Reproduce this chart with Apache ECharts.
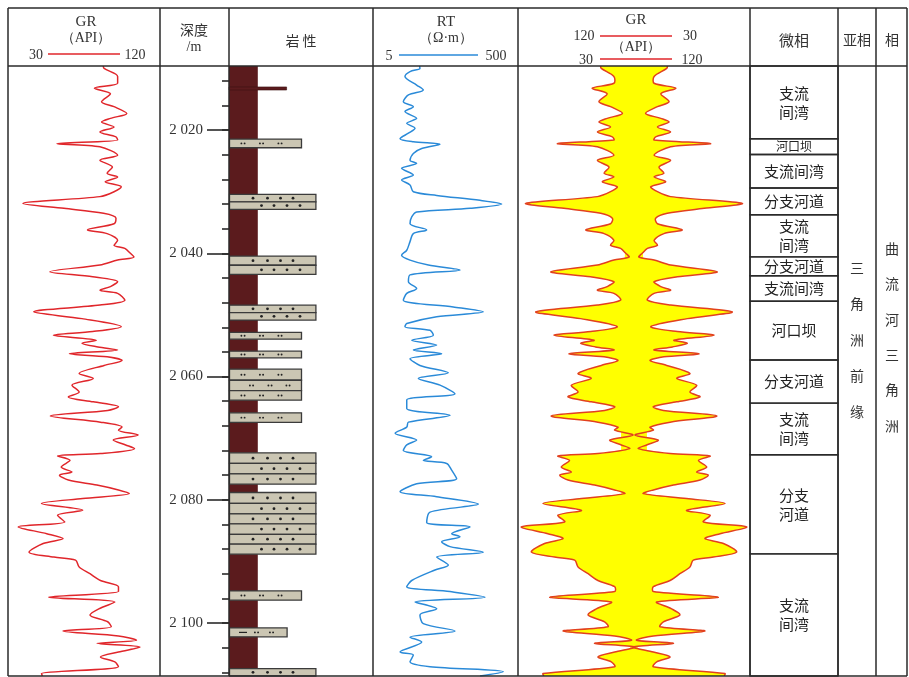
<!DOCTYPE html>
<html>
<head>
<meta charset="utf-8">
<script src="https://cdn.jsdelivr.net/npm/echarts@6/dist/echarts.min.js"></script>
<style>
  html, body { margin: 0; padding: 0; background: #fff; }
  #c { width: 909px; height: 677px; }
</style>
</head>
<body>
<div id="c"></div>
<script>
// Depth window of the log (m)
const DEPTH_MIN = 2009.6;
const DEPTH_MAX = 2108.6;

// Depth axis ticks and labels (m)
const depthMinorTicks = [2012, 2016, 2020, 2024, 2028, 2032, 2036, 2040, 2044, 2048, 2052, 2056,
  2060, 2064, 2068, 2072, 2076, 2080, 2084, 2088, 2092, 2096, 2100, 2104, 2108];
const depthLabels = [2020, 2040, 2060, 2080, 2100];

// Gamma ray curve (API)
const grDepth = [2009.6, 2010.0, 2011.3, 2012.4, 2013.2, 2014.1, 2015.4, 2016.2, 2017.3, 2018.1,
  2018.7, 2019.5, 2020.3, 2021.1, 2021.6, 2022.2, 2022.7, 2024.1, 2024.9, 2026.0,
  2027.0, 2027.6, 2028.4, 2029.2, 2030.0, 2030.8, 2031.9, 2032.7, 2033.5, 2034.3,
  2035.2, 2036.2, 2036.8, 2037.9, 2038.7, 2039.2, 2040.0, 2040.6, 2041.1, 2041.9,
  2043.0, 2043.8, 2044.6, 2045.4, 2046.0, 2046.5, 2047.6, 2048.4, 2049.5, 2050.6,
  2051.9, 2052.7, 2053.3, 2054.1, 2054.6, 2055.2, 2055.7, 2056.3, 2056.8, 2057.4,
  2058.2, 2059.5, 2060.3, 2061.4, 2062.5, 2063.3, 2064.1, 2064.9, 2065.5, 2066.4,
  2067.4, 2068.2, 2068.7, 2069.5, 2070.3, 2071.1, 2071.7, 2072.5, 2072.9, 2073.6,
  2074.7, 2075.5, 2076.0, 2076.8, 2077.6, 2078.4, 2079.0, 2079.8, 2080.6, 2081.7,
  2082.5, 2083.6, 2084.4, 2085.5, 2086.3, 2087.1, 2088.5, 2089.3, 2089.8, 2090.9,
  2092.0, 2093.1, 2094.1, 2094.9, 2095.8, 2096.6, 2097.7, 2098.7, 2099.8, 2100.6,
  2101.3, 2102.1, 2102.8, 2103.3, 2103.9, 2104.7, 2105.5, 2106.3, 2107.1, 2108.2, 2108.6];
const grValue = [62.0, 62.3, 67.2, 67.2, 58.8, 64.6, 61.4, 65.9, 70.5, 64.6,
  61.4, 65.9, 60.8, 66.6, 67.2, 45.3, 60.8, 67.2, 60.8, 65.3,
  63.4, 67.2, 62.7, 68.5, 65.9, 60.8, 33.0, 47.8, 62.1, 66.6,
  65.9, 56.3, 63.4, 67.2, 65.9, 69.8, 71.8, 73.1, 67.2, 60.8,
  42.7, 58.2, 67.2, 64.6, 60.8, 67.2, 69.8, 60.8, 36.9, 54.3,
  68.5, 58.2, 44.0, 59.5, 54.3, 60.1, 67.2, 49.8, 63.4, 68.8,
  62.3, 53.3, 58.4, 50.7, 53.3, 49.4, 58.4, 67.5, 63.6, 42.9,
  61.0, 68.8, 67.5, 74.6, 65.6, 70.1, 73.3, 61.0, 45.5, 50.0,
  46.8, 50.7, 46.2, 49.4, 59.7, 67.5, 71.4, 54.6, 39.7, 54.6,
  45.5, 48.1, 31.3, 41.6, 47.5, 40.3, 35.2, 44.2, 52.0, 53.3,
  57.2, 61.0, 67.5, 67.5, 42.3, 66.2, 60.4, 57.2, 63.6, 64.9,
  47.5, 67.5, 74.0, 59.7, 75.3, 67.5, 61.0, 66.2, 67.5, 39.7, 40.0];

// Resistivity curve (ohm.m)
const rtDepth = [2009.6, 2010.0, 2010.5, 2011.3, 2012.7, 2013.5, 2014.3, 2015.4, 2016.2, 2017.0,
  2018.1, 2018.9, 2019.7, 2020.5, 2021.4, 2021.9, 2022.3, 2023.0, 2023.8, 2024.9,
  2025.4, 2026.2, 2027.3, 2028.1, 2028.9, 2030.0, 2030.6, 2031.4, 2032.0, 2032.7,
  2033.3, 2034.1, 2035.2, 2036.2, 2036.8, 2038.1, 2039.5, 2040.3, 2041.1, 2041.9,
  2042.7, 2043.5, 2044.6, 2045.7, 2046.5, 2047.6, 2048.7, 2049.5, 2050.3, 2051.4,
  2051.9, 2052.5, 2053.3, 2054.1, 2054.9, 2055.7, 2056.3, 2057.1, 2058.2, 2059.4,
  2060.3, 2061.4, 2062.8, 2063.8, 2065.2, 2066.3, 2067.4, 2068.2, 2069.2, 2070.3,
  2071.1, 2072.0, 2073.0, 2073.6, 2074.1, 2075.2, 2076.6, 2077.4, 2078.7, 2079.5,
  2080.7, 2082.0, 2083.7, 2084.4, 2085.5, 2086.0, 2086.8, 2087.6, 2088.5, 2089.3,
  2090.6, 2091.4, 2093.1, 2094.1, 2094.9, 2095.8, 2096.6, 2097.7, 2098.7, 2100.1,
  2101.3, 2102.3, 2103.1, 2104.7, 2105.2, 2106.3, 2107.1, 2107.9, 2108.6];
const rtValue = [22, 22.2, 16.2, 13.8, 20.0, 24.7, 15.4, 13.1, 18.0, 13.8,
  20.0, 14.6, 19.0, 15.4, 11.8, 18.0, 42.0, 23.5, 18.0, 16.2,
  20.0, 12.4, 18.0, 12.4, 16.2, 18.0, 37.8, 149.6, 298, 108.9,
  20.0, 17.1, 16.2, 27.5, 18.0, 16.2, 14.6, 12.4, 16.2, 29.0,
  79.2, 16.2, 15.4, 20.0, 14.6, 13.1, 64.1, 166, 37.8, 14.6,
  13.8, 30.6, 34.0, 17.1, 37.8, 18.0, 44.3, 16.2, 22.2, 54.7,
  21.1, 42.0, 67.6, 14.6, 14.6, 57.7, 15.4, 14.6, 10.1, 20.0,
  14.6, 13.1, 32.2, 24.7, 51.9, 60.8, 71.3, 20.0, 11.8, 37.8,
  141.9, 30.6, 27.5, 108.9, 60.8, 79.2, 44.3, 57.7, 166, 37.8,
  54.7, 35.8, 17.1, 14.6, 57.7, 175, 19.0, 37.8, 22.2, 24.7,
  67.6, 16.2, 23.5, 11.8, 18.0, 16.2, 30.6, 314, 150];

// Lithology beds (top, base in m; rock type)
const litTop = [2013.0, 2021.46, 2030.44, 2031.65, 2040.45, 2041.94, 2048.41, 2049.62, 2052.84, 2055.88,
  2058.8, 2060.6, 2062.3, 2065.89, 2072.38, 2074.1, 2075.8, 2078.82, 2080.6, 2082.3,
  2083.9, 2085.6, 2087.2, 2094.79, 2100.8, 2107.4];
const litBase = [2013.5, 2022.87, 2031.65, 2032.87, 2041.94, 2043.43, 2049.62, 2050.84, 2053.93, 2056.96,
  2060.6, 2062.3, 2063.83, 2067.45, 2074.1, 2075.8, 2077.47, 2080.6, 2082.3, 2083.9,
  2085.6, 2087.2, 2088.83, 2096.3, 2102.25, 2108.6];
const litType = ['mudBand', 'silt', 'sand', 'sand', 'sand', 'sand', 'sand', 'sand', 'silt', 'silt',
  'silt', 'silt', 'silt', 'silt', 'sand', 'sand', 'sand', 'sand', 'sand', 'sand',
  'sand', 'sand', 'sand', 'silt', 'siltMud', 'sand'];

// Microfacies intervals
const faciesTop = [2009.6, 2021.41, 2023.96, 2029.40, 2033.73, 2040.57, 2043.64, 2047.79, 2057.31, 2064.32, 2072.69, 2088.78];
const faciesBase = [2021.41, 2023.96, 2029.40, 2033.73, 2040.57, 2043.64, 2047.79, 2057.31, 2064.32, 2072.69, 2088.78, 2108.6];
const faciesName = ['支流\n间湾', '河口坝', '支流间湾', '分支河道', '支流\n间湾', '分支河道', '支流间湾',
  '河口坝', '分支河道', '支流\n间湾', '分支\n河道', '支流\n间湾'];
const subFaciesName = '三角洲前缘';
const faciesGroupName = '曲流河三角洲';

// Grain-size class used as the width of each lithology bar
const grainSize = { mud: 1, mudBand: 2, siltMud: 2, silt: 2.5, sand: 3 };

const SERIF = '"Liberation Serif", "DejaVu Serif", serif';
const CJK = '"Noto Sans CJK SC", sans-serif';
const INK = '#2a2a2a';
const GR_RED = '#e0262b';
const GR_EDGE = '#e2401f';
const RT_BLUE = '#2a8ad8';
const MUD = '#5b1b1d';
const SAND = '#cbc6b3';

const chart = echarts.init(document.getElementById('c'), null, { renderer: 'canvas' });

const depthAxis = (gridIndex) => ({
  type: 'value', gridIndex, inverse: true, min: DEPTH_MIN, max: DEPTH_MAX, show: false
});

// Lithology bars and their fill symbols
function renderLith(params, api) {
  const i = api.value(2);
  const kind = i < 0 ? 'mud' : litType[i];
  const p0 = api.coord([0, api.value(0)]);
  const p1 = api.coord([grainSize[kind], api.value(1)]);
  const x = p0[0], y = p0[1], w = p1[0] - p0[0], h = p1[1] - p0[1];
  if (kind === 'mud') {
    return { type: 'rect', shape: { x, y, width: w, height: h }, style: { fill: MUD } };
  }
  if (kind === 'mudBand') {
    return { type: 'rect', shape: { x, y, width: w, height: h }, style: { fill: MUD, stroke: '#3a1010', lineWidth: 0.6 } };
  }
  const children = [{
    type: 'rect', shape: { x: x + 0.5, y, width: w, height: h },
    style: { fill: SAND, stroke: '#3b3b3b', lineWidth: 1.3 }
  }];
  // alternate the symbol rows inside stacked beds
  let row = 0;
  for (let k = i; k > 0 && Math.abs(litTop[k] - litBase[k - 1]) < 0.05; k--) row++;
  const cy = y + h / 2;
  const dot = (cx, r) => children.push({ type: 'circle', shape: { cx, cy, r }, style: { fill: '#222' } });
  if (kind === 'sand') {
    const offs = row % 2 === 0 ? [24, 38.5, 51.5, 64] : [32.5, 45, 58, 71];
    offs.forEach(o => dot(x + o, 1.4));
  } else if (kind === 'silt') {
    const offs = row % 2 === 0 ? [14, 32.5, 51] : [22.5, 41, 59];
    offs.forEach(o => { dot(x + o - 1.6, 0.95); dot(x + o + 1.6, 0.95); });
  } else if (kind === 'siltMud') {
    children.push({ type: 'line', shape: { x1: x + 10, y1: cy, x2: x + 18, y2: cy }, style: { stroke: '#222', lineWidth: 1.2 } });
    [27.5, 42.5].forEach(o => { dot(x + o - 1.6, 0.95); dot(x + o + 1.6, 0.95); });
  }
  return { type: 'group', children };
}

// Yellow body of the mirrored gamma-ray track: each curve is filled toward the track centre
const GR_SCALE_MIN = 30, GR_SCALE_MAX = 120;
const GR_MID = (GR_SCALE_MIN + GR_SCALE_MAX) / 2;
function renderGrFill(params, api) {
  const pts = grDepth.map((d, i) => api.coord([grValue[i], d]));
  pts.push(api.coord([GR_MID, DEPTH_MAX]));
  pts.push(api.coord([GR_MID, DEPTH_MIN]));
  return { type: 'polygon', shape: { points: pts, smooth: 0.3 }, style: { fill: '#ffff00' } };
}
function renderGrEdge(params, api) {
  const pts = grDepth.map((d, i) => api.coord([grValue[i], d]));
  return { type: 'polyline', shape: { points: pts, smooth: 0.3 }, style: { stroke: GR_EDGE, lineWidth: 1.5, fill: null } };
}

function renderFacies(params, api) {
  const p0 = api.coord([0, api.value(0)]);
  const p1 = api.coord([1, api.value(1)]);
  const name = faciesName[api.value(2)];
  const h = p1[1] - p0[1];
  const small = h < 17;
  return {
    type: 'group',
    children: [
      { type: 'rect', shape: { x: p0[0], y: p0[1], width: p1[0] - p0[0], height: h },
        style: { fill: null, stroke: INK, lineWidth: 1.4 } },
      { type: 'text', x: (p0[0] + p1[0]) / 2, y: (p0[1] + p1[1]) / 2,
        style: { text: name, fill: '#222', font: (small ? '12px ' : '15px ') + CJK,
          align: 'center', verticalAlign: 'middle', lineHeight: 19 } }
    ]
  };
}

const depthFmt = v => String(v).replace(/^(\d)(\d{3})$/, '$1 $2');

const grids = [
  { left: 8, top: 66, width: 152, height: 610 },    // GR
  { left: 229, top: 66, width: 144, height: 610 },  // depth + lithology
  { left: 373, top: 66, width: 145, height: 610 },  // RT
  { left: 518, top: 66, width: 232, height: 610 },  // mirrored GR
  { left: 750, top: 66, width: 88, height: 610 }    // microfacies
];

const option = {
  animation: false,
  backgroundColor: '#fff',
  grid: grids.map(g => Object.assign({ containLabel: false }, g)),
  xAxis: [
    { type: 'value', gridIndex: 0, min: 27.6, max: 82.5, show: false },
    { type: 'value', gridIndex: 1, min: 0, max: 5, show: false },
    { type: 'log', gridIndex: 2, logBase: 10, min: 5, max: 500, show: false },
    { type: 'value', gridIndex: 3, min: GR_SCALE_MIN, max: GR_SCALE_MAX, show: false },
    { type: 'value', gridIndex: 3, min: GR_SCALE_MIN, max: GR_SCALE_MAX, inverse: true, show: false },
    { type: 'value', gridIndex: 4, min: 0, max: 1, show: false }
  ],
  yAxis: [
    depthAxis(0),
    {
      type: 'value', gridIndex: 1, inverse: true, min: DEPTH_MIN, max: DEPTH_MAX, position: 'left',
      axisLine: { show: false }, splitLine: { show: false },
      axisTick: { show: true, customValues: depthMinorTicks, length: 7, lineStyle: { color: INK, width: 1.6 } },
      axisLabel: { show: false }
    },
    {
      type: 'value', gridIndex: 1, inverse: true, min: DEPTH_MIN, max: DEPTH_MAX, position: 'left',
      axisLine: { show: false }, splitLine: { show: false },
      axisTick: { show: true, customValues: depthLabels, length: 22, lineStyle: { color: INK, width: 1.6 } },
      axisLabel: { show: true, customValues: depthLabels, margin: 26, formatter: depthFmt,
        color: '#333', fontFamily: SERIF, fontSize: 15 }
    },
    depthAxis(2),
    depthAxis(3),
    depthAxis(4)
  ],
  series: [
    {
      type: 'line', name: 'GR', xAxisIndex: 0, yAxisIndex: 0, showSymbol: false, smooth: 0.3,
      lineStyle: { color: GR_RED, width: 1.5 }, silent: true,
      data: grDepth.map((d, i) => [grValue[i], d])
    },
    {
      type: 'custom', name: 'mudstone', xAxisIndex: 1, yAxisIndex: 1, silent: true, z: 1,
      encode: { y: [0, 1] }, renderItem: renderLith,
      data: [[DEPTH_MIN, DEPTH_MAX, -1]]
    },
    {
      type: 'custom', name: 'lithology', xAxisIndex: 1, yAxisIndex: 1, silent: true, z: 2,
      encode: { y: [0, 1] }, renderItem: renderLith,
      data: litTop.map((t, i) => [t, litBase[i], i])
    },
    {
      type: 'line', name: 'RT', xAxisIndex: 2, yAxisIndex: 3, showSymbol: false, smooth: 0.3,
      lineStyle: { color: RT_BLUE, width: 1.5 }, silent: true,
      data: rtDepth.map((d, i) => [rtValue[i], d])
    },
    { type: 'custom', xAxisIndex: 3, yAxisIndex: 4, silent: true, clip: true, z: 1,
      encode: { y: 1 }, renderItem: renderGrFill, data: [[GR_MID, DEPTH_MIN]] },
    { type: 'custom', xAxisIndex: 4, yAxisIndex: 4, silent: true, clip: true, z: 1,
      encode: { y: 1 }, renderItem: renderGrFill, data: [[GR_MID, DEPTH_MIN]] },
    { type: 'custom', xAxisIndex: 3, yAxisIndex: 4, silent: true, clip: true, z: 3,
      encode: { y: 1 }, renderItem: renderGrEdge, data: [[GR_MID, DEPTH_MIN]] },
    { type: 'custom', xAxisIndex: 4, yAxisIndex: 4, silent: true, clip: true, z: 3,
      encode: { y: 1 }, renderItem: renderGrEdge, data: [[GR_MID, DEPTH_MIN]] },
    {
      type: 'custom', name: 'microfacies', xAxisIndex: 5, yAxisIndex: 5, silent: true,
      encode: { y: [0, 1] }, renderItem: renderFacies,
      data: faciesTop.map((t, i) => [t, faciesBase[i], i])
    }
  ],
  graphic: []
};

// Table frame and headers
const colX = [8, 160, 229, 373, 518, 750, 838, 876, 907];
const TOP = 8, HEAD = 66, BOTTOM = 676;
const g = [];
const line = (x1, y1, x2, y2, stroke, w) => g.push({ type: 'line', silent: true, z: 100,
  shape: { x1, y1, x2, y2 }, style: { stroke: stroke || INK, lineWidth: w || 1.5 } });
const text = (x, y, t, font, extra) => g.push({ type: 'text', silent: true, z: 100, x, y,
  style: Object.assign({ text: t, font, fill: '#333', align: 'center', verticalAlign: 'middle' }, extra || {}) });

line(colX[0], TOP, colX[8], TOP);
line(colX[0], HEAD, colX[8], HEAD);
line(colX[0], BOTTOM, colX[8], BOTTOM);
colX.forEach(x => line(x, TOP, x, BOTTOM));

// GR header
text(86, 22, 'GR', '15px ' + SERIF);
text(86, 38, '（API）', '14px ' + SERIF);
text(36, 55, '30', '14px ' + SERIF);
text(135, 55, '120', '14px ' + SERIF);
line(48, 54, 120, 54, GR_RED, 1.6);
// depth header
text(194, 30, '深度', '14px ' + CJK);
text(194, 47, '/m', '14px ' + SERIF);
// lithology header
text(301, 41, '岩 性', '14px ' + CJK);
// RT header
text(446, 22, 'RT', '15px ' + SERIF);
text(446, 38, '（Ω·m）', '14px ' + SERIF);
text(389, 56, '5', '14px ' + SERIF);
text(496, 56, '500', '14px ' + SERIF);
line(399, 55, 478, 55, RT_BLUE, 1.6);
// mirrored GR header
text(636, 20, 'GR', '15px ' + SERIF);
text(584, 36, '120', '14px ' + SERIF);
line(600, 36, 672, 36, GR_RED, 1.6);
text(690, 36, '30', '14px ' + SERIF);
text(636, 47, '（API）', '14px ' + SERIF);
text(586, 60, '30', '14px ' + SERIF);
line(600, 59, 672, 59, GR_RED, 1.6);
text(692, 60, '120', '14px ' + SERIF);
// facies headers
text(794, 40, '微相', '15px ' + CJK);
text(857, 40, '亚相', '14px ' + CJK);
text(892, 40, '相', '14px ' + CJK);
// sub-facies and facies columns
text(857, 340, subFaciesName.split('').join('\n'), '14px ' + CJK, { lineHeight: 36 });
text(892, 337, faciesGroupName.split('').join('\n'), '14px ' + CJK, { lineHeight: 35.4 });

option.graphic = g;
chart.setOption(option);
</script>
</body>
</html>
